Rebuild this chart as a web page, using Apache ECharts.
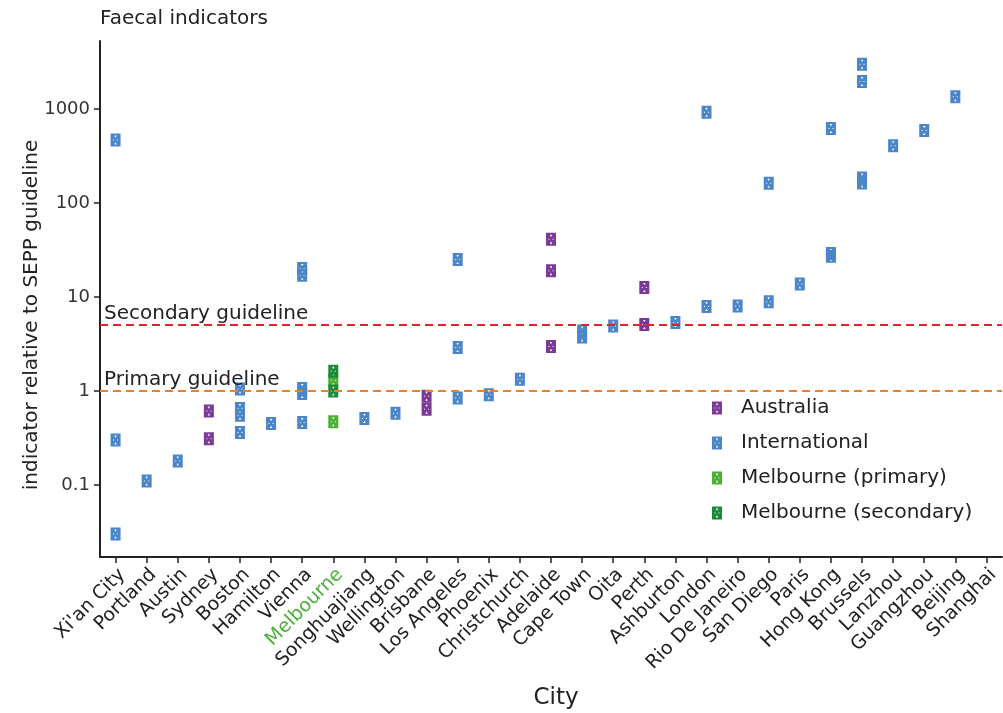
<!DOCTYPE html>
<html>
<head>
<meta charset="utf-8">
<script src="https://cdn.jsdelivr.net/npm/echarts@6/dist/echarts.min.js"></script>
<style>
html,body{margin:0;padding:0;background:#fff;}
#chart{width:1003px;height:713px;}
</style>
</head>
<body>
<div id="chart"></div>
<script>
// ---- Data ----
const cities = ["Xi'an City","Portland","Austin","Sydney","Boston","Hamilton","Vienna","Melbourne",
  "Songhuajiang","Wellington","Brisbane","Los Angeles","Phoenix","Christchurch","Adelaide","Cape Town",
  "Oita","Perth","Ashburton","London","Rio De Janeiro","San Diego","Paris","Hong Kong","Brussels",
  "Lanzhou","Guangzhou","Beijing","Shanghai"];

const australiaCities = ["Sydney","Sydney","Brisbane","Brisbane","Adelaide","Adelaide","Adelaide","Perth","Perth"];
const australiaValues = [0.61,0.31,0.88,0.64,41,19,2.97,12.6,5.1];

const internationalCities = ["Xi'an City","Xi'an City","Xi'an City","Portland","Austin",
  "Boston","Boston","Boston","Boston","Hamilton",
  "Vienna","Vienna","Vienna","Vienna","Vienna","Songhuajiang","Wellington",
  "Los Angeles","Los Angeles","Los Angeles","Phoenix","Christchurch","Cape Town","Cape Town",
  "Oita","Ashburton","London","London","Rio De Janeiro","San Diego","San Diego","Paris",
  "Hong Kong","Hong Kong","Hong Kong","Brussels","Brussels","Brussels","Brussels",
  "Lanzhou","Guangzhou","Beijing"];
const internationalValues = [468,0.30,0.030,0.11,0.18,
  1.05,0.65,0.55,0.36,0.45,
  20,17,1.06,0.94,0.46,0.51,0.58,
  25,2.9,0.84,0.91,1.33,4.35,3.75,
  4.9,5.35,920,7.9,8.0,162,8.9,13.7,
  620,29,27,2980,1960,184,163,
  405,590,1350];

const melPrimaryCities = ["Melbourne","Melbourne"];
const melPrimaryValues = [1.3,0.47];
const melSecondaryCities = ["Melbourne","Melbourne"];
const melSecondaryValues = [1.62,1.0];

const guidelineNames = ["Secondary guideline","Primary guideline"];
const guidelineValues = [5,1];

const yTickLabels = ["0.1","1","10","100","1000"];

// ---- Styling ----
const FONT = "DejaVu Sans";
const colors = {
  australia: "#7B3A96",
  international: "#4A86C8",
  primary: "#4CB034",
  secondary: "#1B8A3A"
};
const lineColors = ["#E32228","#F0821E"];
// rectangle marker with small white cut-outs (holes via reverse winding)
const markerPath = "path://M0 0L20 0L20 26L0 26Z" +
  "M8 4L8 6L12 6L12 4Z M9.2 6L9.2 8L10.8 8L10.8 6Z" +
  "M9.2 18L9.2 20L10.8 20L10.8 18Z M8 20L8 22L12 22L12 20Z" +
  "M5 12L5 14L7 14L7 12Z M13 12L13 14L15 14L15 12Z";

function pairs(cs, vs){ return cs.map((c,i)=>[c, vs[i]]); }

function scatter(name, cs, vs, color, extra){
  return Object.assign({
    name: name,
    type: 'scatter',
    data: pairs(cs, vs),
    symbol: markerPath,
    symbolSize: [10,13],
    itemStyle: {color: color, opacity: 1},
    emphasis: {disabled: true},
    z: 2
  }, extra || {});
}

const chart = echarts.init(document.getElementById('chart'), null, {renderer:'canvas'});

const option = {
  animation: false,
  backgroundColor: '#ffffff',
  textStyle: {fontFamily: FONT},
  title: {
    text: 'Faecal indicators',
    left: 95, top: 4,
    textStyle: {fontFamily: FONT, fontSize: 20, fontWeight: 'normal', color: '#222'}
  },
  legend: {
    orient: 'vertical',
    left: 707, top: 393,
    itemWidth: 10, itemHeight: 13,
    itemGap: 15,
    data: ['Australia','International','Melbourne (primary)','Melbourne (secondary)'],
    textStyle: {fontFamily: FONT, fontSize: 20, color: '#222', padding: [0,0,0,14]},
    selectedMode: false
  },
  grid: {left: 100, right: 1, top: 41, bottom: 156, containLabel: false, outerBoundsMode: 'none'},
  xAxis: {
    type: 'category',
    data: cities,
    boundaryGap: true,
    name: 'City',
    nameLocation: 'middle',
    nameGap: 130,
    nameMoveOverlap: false,
    nameTextStyle: {fontFamily: FONT, fontSize: 23, color: '#222', padding: [0, 0, 0, 10]},
    axisLine: {show: true, lineStyle: {color: '#222', width: 2}},
    axisTick: {show: true, alignWithLabel: true, length: 6, lineStyle: {color: '#222', width: 1.5}},
    axisLabel: {
      rotate: 45, interval: 0, margin: 8,
      align: 'right', verticalAlign: 'top',
      fontFamily: FONT, fontSize: 19,
      color: function(v){ return v === 'Melbourne' ? '#4CAF37' : '#222'; }
    },
    splitLine: {show: false}
  },
  yAxis: {
    type: 'log',
    logBase: 10,
    min: 0.0171,
    max: 5280,
    name: 'indicator relative to SEPP guideline',
    nameLocation: 'middle',
    nameGap: 58,
    nameRotate: 90,
    nameMoveOverlap: false,
    nameTextStyle: {fontFamily: FONT, fontSize: 20, color: '#222', padding: [0, 32, 0, 0]},
    axisLine: {show: true, lineStyle: {color: '#222', width: 2}},
    axisTick: {show: true, length: 6, lineStyle: {color: '#222', width: 1.5}},
    axisLabel: {
      fontFamily: FONT, fontSize: 18, color: '#333', margin: 10,
      showMinLabel: false, showMaxLabel: false,
      formatter: function(v){
        const e = Math.round(Math.log10(v));
        if (Math.abs(Math.log10(v) - e) > 1e-6) return '';
        const idx = e + 1;
        return yTickLabels[idx] !== undefined ? yTickLabels[idx] : '';
      }
    },
    splitLine: {show: false}
  },
  series: [
    scatter('Australia', australiaCities, australiaValues, colors.australia),
    scatter('International', internationalCities, internationalValues, colors.international, {
      markLine: {
        silent: true,
        symbol: ['none','none'],
        z: 5,
        animation: false,
        data: guidelineValues.map((v,i)=>({
          yAxis: v,
          lineStyle: {color: lineColors[i], type: [8,5], width: 2},
          label: {
            show: true,
            formatter: guidelineNames[i],
            position: 'insideStartTop',
            distance: [4, 1],
            fontFamily: FONT, fontSize: 20, color: '#222'
          }
        }))
      }
    }),
    scatter('Melbourne (primary)', melPrimaryCities, melPrimaryValues, colors.primary),
    scatter('Melbourne (secondary)', melSecondaryCities, melSecondaryValues, colors.secondary)
  ]
};
chart.setOption(option);
</script>
</body>
</html>
